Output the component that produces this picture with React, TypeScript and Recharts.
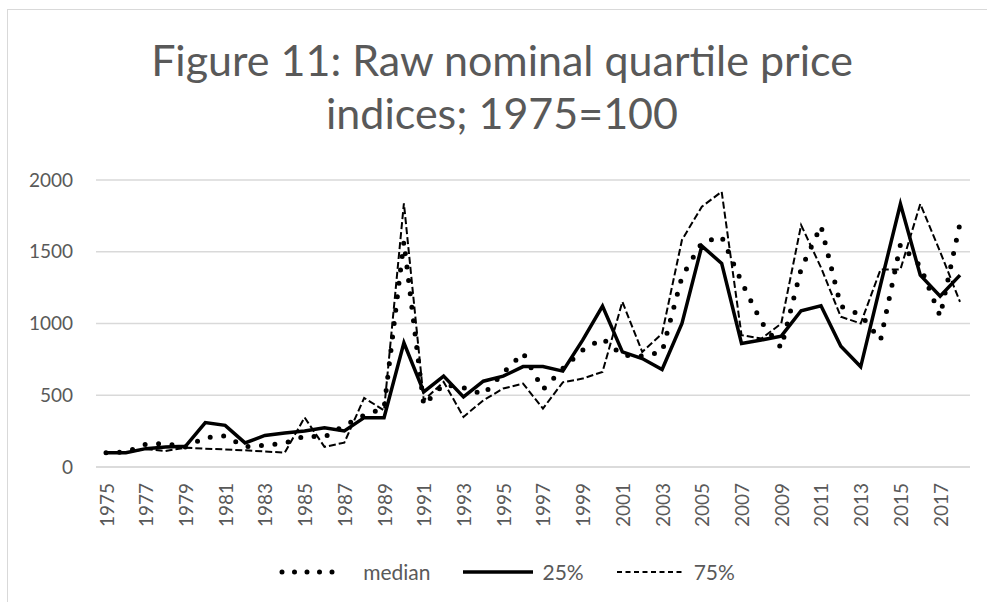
import React from "react";
import { LineChart, Line, XAxis, YAxis, CartesianGrid } from "recharts";

const years = [
  "1975", "1976", "1977", "1978", "1979", "1980", "1981", "1982", "1983", "1984",
  "1985", "1986", "1987", "1988", "1989", "1990", "1991", "1992", "1993", "1994",
  "1995", "1996", "1997", "1998", "1999", "2000", "2001", "2002", "2003", "2004",
  "2005", "2006", "2007", "2008", "2009", "2010", "2011", "2012", "2013", "2014",
  "2015", "2016", "2017", "2018",
];

const median = [
  100, 105, 158, 163, 140, 205, 216, 142, 152, 165,
  216, 209, 288, 360, 410, 1570, 430, 575, 553, 505,
  656, 795, 540, 686, 814, 895, 779, 774, 802, 1326,
  1563, 1605, 1290, 1010, 830, 1380, 1680, 1120, 1060, 884,
  1550, 1400, 1050, 1698,
];

const q25 = [
  100, 100, 128, 140, 144, 310, 290, 168, 220, 237,
  251, 274, 251, 344, 344, 865, 523, 633, 488, 598,
  633, 700, 700, 668, 884, 1121, 802, 756, 679, 1000,
  1540, 1419, 861, 885, 912, 1089, 1123, 842, 698, 1270,
  1833, 1337, 1191, 1337,
];

const q75 = [
  100, 100, 125, 112, 135, 128, 122, 116, 108, 100,
  345, 140, 170, 481, 395, 1838, 465, 593, 349, 465,
  547, 581, 407, 590, 616, 663, 1151, 802, 930, 1582,
  1814, 1919, 919, 895, 1000, 1686, 1390, 1047, 1000, 1377,
  1377, 1833, 1500, 1151,
];

const yTicks = [0, 500, 1000, 1500, 2000];

const data = years.map((year, i) => ({
  year,
  median: median[i],
  q25: q25[i],
  q75: q75[i],
}));

const FONT = "Lato, 'Open Sans', sans-serif";
const GREY = "#595959";

const YearTick = (props: any) => {
  const { x, y, payload } = props;
  return (
    <text
      x={x}
      y={y}
      transform={`rotate(-90 ${x} ${y})`}
      textAnchor="end"
      dominantBaseline="central"
      fill={GREY}
      fontSize={19}
      fontFamily={FONT}
    >
      {payload.value}
    </text>
  );
};

const legendItems = [
  { label: "median", dash: "0 12.5", width: 5, cap: "round" as const, gap: 16, sample: 62 },
  { label: "25%", dash: undefined, width: 3.5, cap: "butt" as const, gap: 6, sample: 70 },
  { label: "75%", dash: "5 3.5", width: 2.2, cap: "butt" as const, gap: 6, sample: 68 },
];

export default function App() {
  return (
    <div
      style={{
        position: "absolute",
        left: 0,
        top: 0,
        width: 987,
        height: 602,
        background: "#fff",
        overflow: "hidden",
        fontFamily: FONT,
      }}
    >
      <div
        style={{
          position: "absolute",
          left: 7,
          top: 9,
          width: 1000,
          height: 620,
          borderLeft: "1.5px solid #d9d9d9",
          borderTop: "1.5px solid #d9d9d9",
        }}
      />
      <div
        style={{
          position: "absolute",
          left: 0,
          top: 33,
          width: 1004,
          textAlign: "center",
          color: GREY,
          fontSize: 43,
          fontWeight: 400,
          lineHeight: "53px",
        }}
      >
        Figure 11: Raw nominal quartile price
        <br />
        indices; 1975=100
      </div>
      <LineChart
        width={987}
        height={602}
        data={data}
        margin={{ top: 180, right: 17, left: 0, bottom: 0 }}
        style={{ position: "absolute", left: 0, top: 0 }}
      >
        <CartesianGrid vertical={false} stroke="#d9d9d9" strokeWidth={1.3} />
        <XAxis
          dataKey="year"
          interval={1}
          padding={{ left: 10, right: 10 }}
          axisLine={{ stroke: "#d9d9d9", strokeWidth: 1.3 }}
          tickLine={false}
          tickSize={0}
          tickMargin={16}
          height={135}
          tick={<YearTick />}
        />
        <YAxis
          domain={[0, 2000]}
          ticks={yTicks}
          width={96}
          axisLine={false}
          tickLine={false}
          tickSize={0}
          tickMargin={23}
          tick={{ fill: GREY, fontSize: 19, fontFamily: FONT }}
        />
        <Line
          type="linear"
          dataKey="median"
          stroke="#000"
          strokeWidth={5}
          strokeDasharray="0 13.5"
          strokeLinecap="round"
          dot={false}
          isAnimationActive={false}
        />
        <Line
          type="linear"
          dataKey="q25"
          stroke="#000"
          strokeWidth={3.5}
          dot={false}
          isAnimationActive={false}
        />
        <Line
          type="linear"
          dataKey="q75"
          stroke="#000"
          strokeWidth={2}
          strokeDasharray="7 3"
          dot={false}
          isAnimationActive={false}
        />
      </LineChart>
      <div
        style={{
          position: "absolute",
          left: 0,
          top: 559,
          width: 1044,
          display: "flex",
          justifyContent: "center",
          alignItems: "center",
          color: GREY,
          fontSize: 21,
        }}
      >
        {legendItems.map((item) => (
          <div key={item.label} style={{ display: "flex", alignItems: "center", marginRight: 30 }}>
            <svg width={item.sample + 6} height={12}>
              <line
                x1={3}
                y1={6}
                x2={item.sample + 3}
                y2={6}
                stroke="#000"
                strokeWidth={item.width}
                strokeDasharray={item.dash}
                strokeLinecap={item.cap}
              />
            </svg>
            <span style={{ marginLeft: item.gap }}>{item.label}</span>
          </div>
        ))}
      </div>
    </div>
  );
}
